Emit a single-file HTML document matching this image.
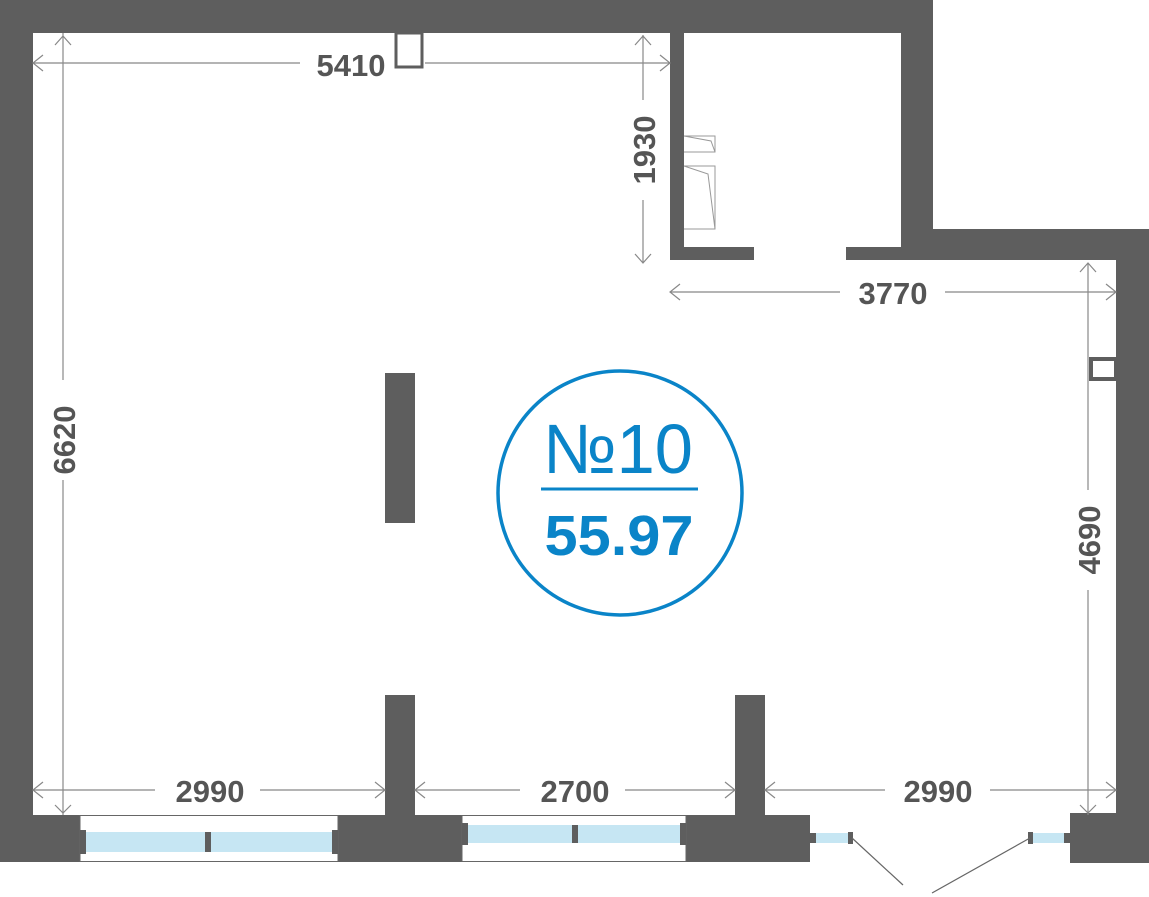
<!DOCTYPE html>
<html><head><meta charset="utf-8"><style>html,body{margin:0;padding:0;background:#fff}svg{display:block}</style></head>
<body>
<svg width="1149" height="897" viewBox="0 0 1149 897" xmlns="http://www.w3.org/2000/svg">
<g fill="#5e5e5e">
<rect x="0" y="0" width="933" height="33"/>
<rect x="0" y="0" width="33" height="815"/>
<rect x="670" y="33" width="14" height="227"/>
<rect x="670" y="247" width="84" height="13"/>
<rect x="846" y="247" width="270" height="13"/>
<rect x="901" y="33" width="32" height="214"/>
<rect x="901" y="229" width="248" height="31"/>
<rect x="1116" y="229" width="33" height="590"/>
<rect x="385" y="373" width="30" height="150"/>
<rect x="385" y="695" width="30" height="120"/>
<rect x="735" y="695" width="30" height="120"/>
<rect x="0" y="815" width="80" height="47"/>
<rect x="338" y="815" width="124" height="47"/>
<rect x="686" y="815" width="124" height="47"/>
<rect x="1070" y="813" width="79" height="50"/>
</g>
<rect x="80" y="815.5" width="258" height="46" fill="#fff" stroke="#666" stroke-width="1"/>
<rect x="86" y="832" width="246" height="20" fill="#c6e6f3"/>
<rect x="80" y="830" width="6" height="24" fill="#5e5e5e"/>
<rect x="332" y="830" width="6" height="24" fill="#5e5e5e"/>
<rect x="205" y="832" width="6" height="20" fill="#5e5e5e"/>
<rect x="462" y="815.5" width="224" height="46" fill="#fff" stroke="#666" stroke-width="1"/>
<rect x="468" y="825" width="212" height="18" fill="#c6e6f3"/>
<rect x="462" y="823" width="6" height="22" fill="#5e5e5e"/>
<rect x="680" y="823" width="6" height="22" fill="#5e5e5e"/>
<rect x="572" y="825" width="6" height="18" fill="#5e5e5e"/>
<rect x="810" y="833" width="42" height="10" fill="#c6e6f3"/>
<rect x="810" y="833" width="6" height="10" fill="#5e5e5e"/>
<rect x="848" y="832" width="5" height="12" fill="#5e5e5e"/>
<rect x="1028" y="833" width="42" height="10" fill="#c6e6f3"/>
<rect x="1028" y="832" width="5" height="12" fill="#5e5e5e"/>
<rect x="1064" y="833" width="6" height="10" fill="#5e5e5e"/>
<g stroke="#666" stroke-width="1.2" fill="none">
<line x1="852" y1="838" x2="903" y2="885"/>
<line x1="1030" y1="838" x2="932" y2="893"/>
</g>
<rect x="396" y="33" width="26" height="34" fill="none" stroke="#5e5e5e" stroke-width="3"/>
<rect x="1091" y="359" width="25" height="20" fill="#fff" stroke="#5e5e5e" stroke-width="4"/>
<g stroke="#999" stroke-width="1" fill="none">
<path d="M684 136 H715 V152 H684 M684 136 L711 141 L715 152"/>
<path d="M684 166 H715 V229 H684 M684 166 L708 174 L715 229"/>
</g>
<g stroke="#888" stroke-width="1.2" fill="none">
<line x1="33" y1="63" x2="300" y2="63"/><line x1="425" y1="63" x2="670" y2="63"/>
<polyline points="43,55 33,63 43,71"/><polyline points="660,55 670,63 660,71"/>
<line x1="63" y1="33" x2="63" y2="380"/><line x1="63" y1="480" x2="63" y2="815"/>
<polyline points="55,45 63,36 71,45"/><polyline points="55,805 63,813 71,805"/>
<line x1="643" y1="35" x2="643" y2="100"/><line x1="643" y1="200" x2="643" y2="263"/>
<polyline points="635,45 643,36 651,45"/><polyline points="635,254 643,263 651,254"/>
<line x1="670" y1="292" x2="840" y2="292"/><line x1="945" y1="292" x2="1116" y2="292"/>
<polyline points="680,284 670,292 680,300"/><polyline points="1106,284 1116,292 1106,300"/>
<line x1="1088" y1="263" x2="1088" y2="490"/><line x1="1088" y1="590" x2="1088" y2="815"/>
<polyline points="1080,272 1088,263 1096,272"/><polyline points="1080,805 1088,813 1096,805"/>
<line x1="33" y1="790" x2="155" y2="790"/><line x1="260" y1="790" x2="385" y2="790"/>
<polyline points="43,782 33,790 43,798"/><polyline points="375,782 385,790 375,798"/>
<line x1="415" y1="790" x2="520" y2="790"/><line x1="625" y1="790" x2="735" y2="790"/>
<polyline points="425,782 415,790 425,798"/><polyline points="725,782 735,790 725,798"/>
<line x1="765" y1="790" x2="885" y2="790"/><line x1="990" y1="790" x2="1116" y2="790"/>
<polyline points="775,782 765,790 775,798"/><polyline points="1106,782 1116,790 1106,798"/>
</g>
<g font-family="Liberation Sans, sans-serif" font-size="31" font-weight="bold" fill="#555" text-anchor="middle">
<text x="351" y="76">5410</text>
<text x="893" y="304">3770</text>
<text x="210" y="802">2990</text>
<text x="575" y="802">2700</text>
<text x="938" y="802">2990</text>
<text transform="translate(75,440) rotate(-90)">6620</text>
<text transform="translate(655,150) rotate(-90)">1930</text>
<text transform="translate(1100,540) rotate(-90)">4690</text>
</g>
<circle cx="620" cy="493" r="122" fill="none" stroke="#0a84c8" stroke-width="3.5"/>
<line x1="541" y1="489" x2="698" y2="489" stroke="#0a84c8" stroke-width="3"/>
<text x="618" y="473" font-family="Liberation Sans, DejaVu Sans, sans-serif" font-size="70" fill="#0a84c8" text-anchor="middle" textLength="150" lengthAdjust="spacingAndGlyphs">№10</text>
<text x="619" y="555" font-family="Liberation Sans, sans-serif" font-size="57" font-weight="bold" fill="#0a84c8" text-anchor="middle" textLength="149" lengthAdjust="spacingAndGlyphs">55.97</text>
</svg>
</body></html>
